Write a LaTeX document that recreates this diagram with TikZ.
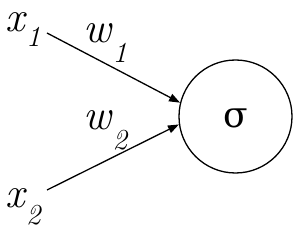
\documentclass[tikz,border=0pt]{standalone}
\usepackage{fontspec}
\newfontfamily\dvs{DejaVu Serif}
\usetikzlibrary{arrows.meta}
\tikzset{
  lbl/.style={inner sep=0pt, anchor=base west, font=\fontsize{43}{43}\selectfont\itshape},
  edge/.style={line width=1.3pt, -{Triangle[length=11pt,width=8pt]}},
  neuron/.style={circle, draw, line width=1.3pt, minimum size=113pt, inner sep=0pt}
}
\newcommand{\sbs}[2]{\hspace{1.5pt}\raisebox{-#1pt}{\fontsize{29}{29}\selectfont #2}}
\begin{document}
\begin{tikzpicture}[x=1pt,y=1pt]
\useasboundingbox (0,0) rectangle (300,233);
\node[neuron] (s) at (235.5,116.5) {};
\node[inner sep=0pt, anchor=base, font=\dvs\fontsize{36}{36}\selectfont] (sig) at (236,105) {σ};
\node[lbl] (x1) at (5,201) {x\sbs{15}{1}};
\node[lbl] (x2) at (5,25) {x\sbs{17}{2}};
\node[lbl] (w1) at (83,190) {w\sbs{20}{1}};
\node[lbl] (w2) at (83,103) {w\sbs{20}{2}};
\coordinate (a1) at (47,200);
\coordinate (a2) at (47,43);
\draw[edge] (a1) -- (s.166.6);
\draw[edge] (a2) -- (s.188.6);
\end{tikzpicture}
\end{document}
